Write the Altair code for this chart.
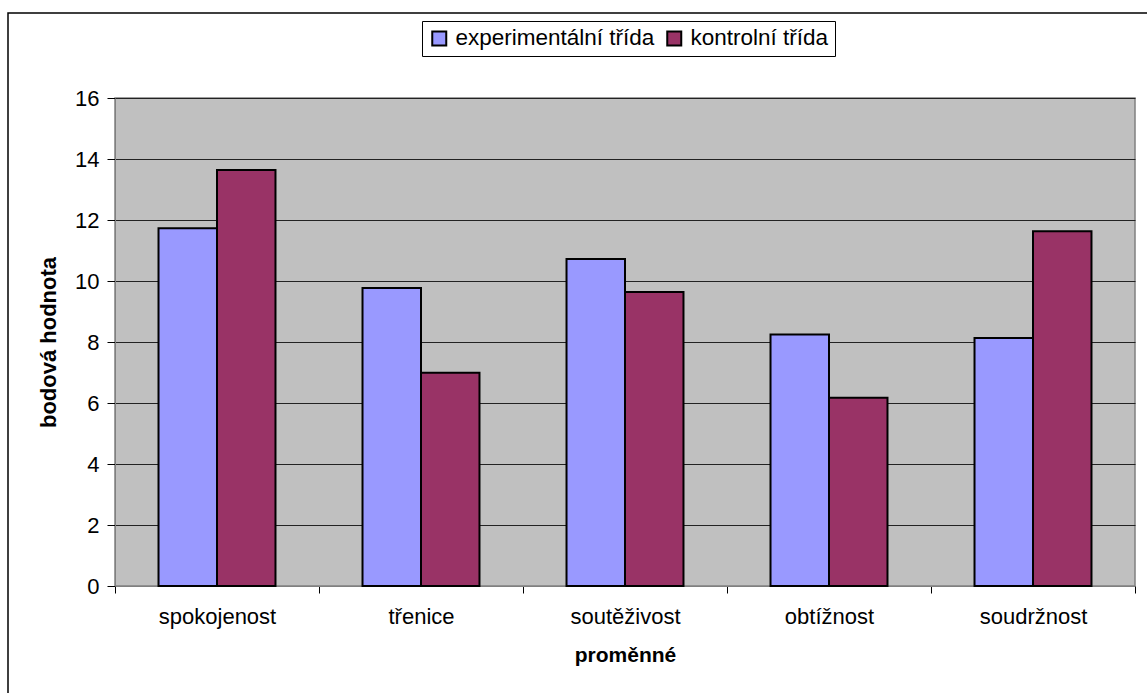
import altair as alt
import pandas as pd

categories = ["spokojenost", "třenice", "soutěživost", "obtížnost", "soudržnost"]
series = ["experimentální třída", "kontrolní třída"]
experimental = [11.73, 9.77, 10.72, 8.25, 8.13]
control = [13.64, 6.99, 9.64, 6.17, 11.63]
y_ticks = [0, 2, 4, 6, 8, 10, 12, 14, 16]
colors = ["#9999FF", "#993366"]

rows = []
for c, e, k in zip(categories, experimental, control):
    rows.append({"proměnná": c, "třída": series[0], "hodnota": e})
    rows.append({"proměnná": c, "třída": series[1], "hodnota": k})
df = pd.DataFrame(rows)

FONT = "Liberation Sans"

bars = alt.Chart(df).mark_bar(stroke="black", strokeWidth=2).encode(
    x=alt.X(
        "proměnná:N",
        sort=categories,
        scale=alt.Scale(paddingInner=0, paddingOuter=0),
        axis=alt.Axis(
            title="proměnné",
            tickBand="extent",
            labelAngle=0,
            grid=False,
            labelFont=FONT,
            labelFontSize=22,
            labelColor="black",
            labelPadding=13,
            tickSize=7,
            tickColor="black",
            domainColor="#808080",
            titleFont=FONT,
            titleFontSize=21,
            titleFontWeight="bold",
            titleColor="black",
            titlePadding=17,
        ),
    ),
    xOffset=alt.XOffset(
        "třída:N",
        sort=series,
        scale=alt.Scale(paddingInner=0, paddingOuter=0.744),
    ),
    y=alt.Y(
        "hodnota:Q",
        scale=alt.Scale(domain=[0, 16], nice=False),
        axis=alt.Axis(
            values=y_ticks,
            title="bodová hodnota",
            labelFont=FONT,
            labelFontSize=22,
            labelColor="black",
            labelPadding=8,
            tickSize=8,
            tickColor="black",
            domainColor="#808080",
            gridColor="#222222",
            gridWidth=1,
            titleFont=FONT,
            titleFontSize=22,
            titleFontWeight="bold",
            titleColor="black",
            titlePadding=14,
        ),
    ),
    color=alt.Color(
        "třída:N",
        sort=series,
        scale=alt.Scale(domain=series, range=colors),
        legend=alt.Legend(
            title=None,
            orient="none",
            legendX=307,
            legendY=-77,
            direction="horizontal",
            strokeColor="black",
            fillColor="white",
            padding=6,
            labelFont=FONT,
            labelFontSize=22.5,
            labelColor="black",
            labelLimit=0,
            symbolType="square",
            symbolSize=196,
            symbolStrokeColor="black",
            symbolStrokeWidth=2,
            symbolOpacity=1,
            columnPadding=8,
            labelOffset=5,
        ),
    ),
)

border = alt.Chart(alt.Data(values=[{}])).mark_rect(
    fill=None, stroke="black", strokeWidth=1.5
).encode(
    x=alt.value(-107),
    x2=alt.value(1100),
    y=alt.value(-85),
    y2=alt.value(700),
)

chart = alt.layer(border, bars).properties(
    width=1020,
    height=488,
    autosize=alt.AutoSizeParams(type="none"),
    padding={"left": 115, "top": 98, "right": 12, "bottom": 107},
    background="white",
).configure_view(
    fill="#C0C0C0",
    stroke="#808080",
    strokeWidth=1.5,
)

chart.save("out.html", embed_options={"renderer": "svg", "actions": False})
